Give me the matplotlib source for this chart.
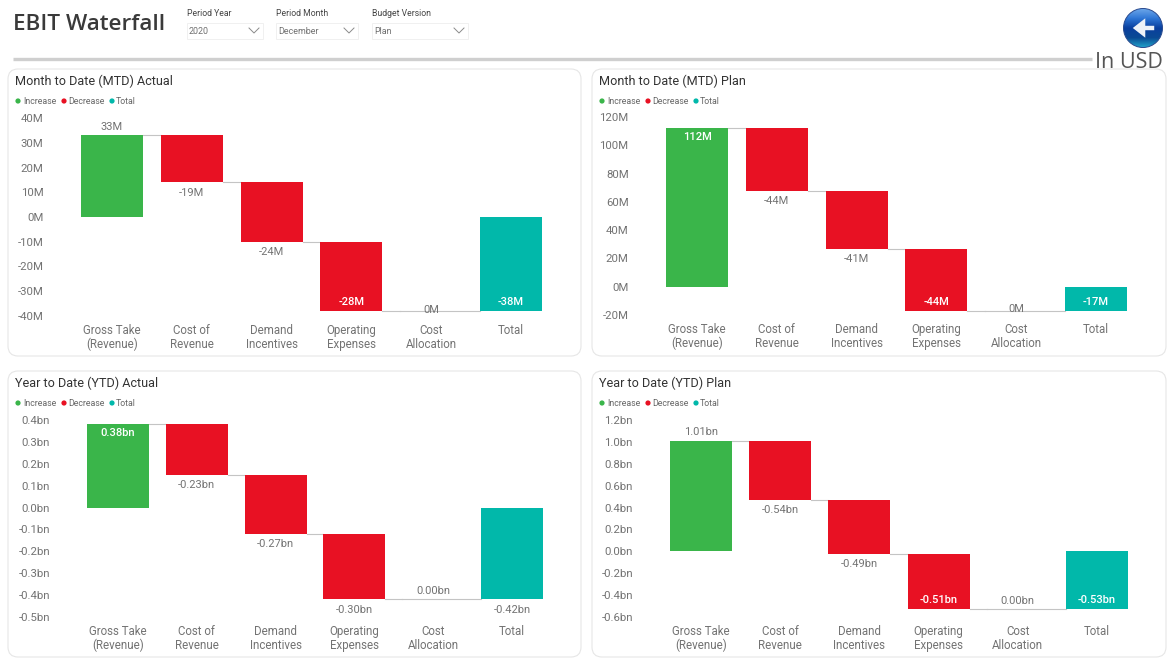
import numpy as np
import matplotlib
matplotlib.use('Agg')
import matplotlib.pyplot as plt
from matplotlib.patches import FancyBboxPatch, Rectangle, Circle

W, H = 1174, 661

categories = ['Gross Take\n(Revenue)', 'Cost of\nRevenue', 'Demand\nIncentives',
              'Operating\nExpenses', 'Cost\nAllocation', 'Total']

mtd_actual = [33, -19, -24, -28, 0]
mtd_plan = [112, -44, -41, -44, 0]
ytd_actual = [0.38, -0.23, -0.27, -0.30, 0.00]
ytd_plan = [1.01, -0.54, -0.49, -0.51, 0.00]

mtd_actual_total = -38
mtd_plan_total = -17
ytd_actual_total = -0.42
ytd_plan_total = -0.53

mtd_actual_ticks = [40, 30, 20, 10, 0, -10, -20, -30, -40]
mtd_plan_ticks = [120, 100, 80, 60, 40, 20, 0, -20]
ytd_actual_ticks = [0.4, 0.3, 0.2, 0.1, 0.0, -0.1, -0.2, -0.3, -0.4, -0.5]
ytd_plan_ticks = [1.2, 1.0, 0.8, 0.6, 0.4, 0.2, 0.0, -0.2, -0.4, -0.6]

GREEN = '#3AB54A'
RED = '#E81123'
TEAL = '#01B8AA'
TXT = '#737373'
FONT = 'Roboto'

plt.rcParams['font.family'] = FONT

fig = plt.figure(figsize=(W / 100, H / 100), dpi=100, facecolor='white')

# page level stuff is drawn in pixel coords
bg = fig.add_axes([0, 0, 1, 1])
bg.set_xlim(0, W)
bg.set_ylim(H, 0)
bg.axis('off')


def chevron(x, y):
    bg.plot([x - 5, x, x + 5], [y - 3, y + 2, y - 3], color='#8a8a8a', lw=0.7)


def slicer(x, w, title, value):
    bg.text(x, 14, title, fontsize=6.2, color='#444444', va='center')
    bg.add_patch(Rectangle((x, 23), w, 16, fc='white', ec='#f0f0f0', lw=0.7))
    bg.text(x + 2, 31, value, fontsize=6.4, color='#707070', va='center')
    chevron(x + w - 9, 31)


bg.text(13, 24, 'EBIT Waterfall', fontsize=16.2, family='Open Sans', weight='semibold',
        color='#3a3a3a', va='center')
slicer(187, 76, 'Period Year', '2020')
slicer(276, 82, 'Period Month', 'December')
slicer(372, 96, 'Budget Version', 'Plan')
bg.plot([13, 1092], [59, 59], color='#cfcfcf', lw=2.4, solid_capstyle='butt')
bg.text(1163, 62, 'In USD', fontsize=15.5, family='Open Sans', color='#555555', ha='right', va='center')

# back button
grad = np.linspace(0, 1, 64).reshape(-1, 1)
cmap = matplotlib.colors.LinearSegmentedColormap.from_list(
    'btn', ['#6fa8ea', '#2f77d6', '#0a3f9e', '#0a4a94', '#22a6cc'])
im = bg.imshow(grad, extent=(1123, 1163, 48, 8), cmap=cmap, aspect='auto', zorder=3)
btn = Circle((1143, 28), 19.5, transform=bg.transData)
im.set_clip_path(btn)
bg.set_xlim(0, W)
bg.set_ylim(H, 0)
bg.add_patch(Circle((1143, 28), 19.5, fc='none', ec='#2a4a8e', lw=0.7, zorder=4))
bg.annotate('', xy=(1130, 28), xytext=(1157, 28), zorder=5,
            arrowprops=dict(arrowstyle='simple,head_width=1.4,head_length=0.9,tail_width=0.32',
                            fc='#eef2f8', ec='none'))


def panel(box, title, tick_fmt, values, total, ticks, px_top, px_bot, x0, step, fmt, inside, above, on_line):
    x, y, x2, y2 = box
    bg.add_patch(FancyBboxPatch((x + 10, y + 10), x2 - x - 20, y2 - y - 20,
                                boxstyle='round,pad=10,rounding_size=10',
                                fc='white', ec='#e6e6e6', lw=0.8))
    bg.text(x + 7, y + 12, title, fontsize=9.1, color='#333333', va='center')

    # legend
    ly = y + 32
    for cx, tx, c, lab in [(10, 15, GREEN, 'Increase'), (56, 60, RED, 'Decrease'), (104, 108, TEAL, 'Total')]:
        bg.add_patch(Circle((x + cx, ly), 2.6, fc=c, ec='none'))
        bg.text(x + tx, ly, lab, fontsize=6.3, color='#666666', va='center')

    ax = fig.add_axes([(x0 - step / 2) / W, 1 - px_bot / H, 6 * step / W, (px_bot - px_top) / H])
    ax.patch.set_alpha(0)
    for s in ax.spines.values():
        s.set_visible(False)

    span = max(ticks) - min(ticks)
    running = 0
    bar_w = 62 / step
    pt = span / (px_bot - px_top)  # data units per pixel

    labels = values + [total]
    for i, v in enumerate(labels):
        is_total = i == len(values)
        bottom = 0 if is_total else running
        top = v if is_total else running + v
        color = TEAL if is_total else (GREEN if v > 0 else RED)
        ax.bar(i, top - bottom, bottom=bottom, width=bar_w, color=color, lw=0)

        hi, lo = max(bottom, top), min(bottom, top)
        col = TXT
        if i in inside:
            # white label stuck to the far end of the bar
            ly_val = top - np.sign(top - bottom) * 9 * pt
            col = 'white'
        elif i in above:
            ly_val = hi + 8.5 * pt
        elif i in on_line:
            ly_val = hi + 1.5 * pt
        else:
            ly_val = lo - 10.5 * pt
        ax.text(i, ly_val, fmt.format(v), ha='center', va='center', fontsize=8, color=col,
                weight='medium' if col == 'white' else 'normal', zorder=4)

        if not is_total:
            running = top
            # zero step has no bar so the line runs across its slot too
            start = i - bar_w / 2 if v == 0 else i + bar_w / 2
            ax.plot([start, i + 1 - bar_w / 2], [running, running], color='#c4c4c4', lw=0.8, zorder=1)

    ax.set_xlim(-0.5, 5.5)
    ax.set_ylim(min(ticks), max(ticks))
    ax.set_xticks(range(6))
    ax.set_xticklabels(categories, fontsize=8.3, color=TXT, linespacing=1.02)
    ax.set_yticks(ticks)
    ax.set_yticklabels([tick_fmt.format(t) for t in ticks], fontsize=8.2, color=TXT)
    ax.tick_params(axis='x', length=0, pad=6)
    ax.tick_params(axis='y', length=0, pad=20.5)
    return ax


panel((8, 69, 581, 356), 'Month to Date (MTD) Actual', '{:.0f}M', mtd_actual, mtd_actual_total,
      mtd_actual_ticks, 118, 316, 112, 79.8, '{:.0f}M', {3, 5}, {0}, {4})
panel((592, 69, 1166, 356), 'Month to Date (MTD) Plan', '{:.0f}M', mtd_plan, mtd_plan_total,
      mtd_plan_ticks, 117, 315, 697, 79.8, '{:.0f}M', {0, 3, 5}, set(), {4})
panel((8, 371, 581, 657), 'Year to Date (YTD) Actual', '{:.1f}bn', ytd_actual, ytd_actual_total,
      ytd_actual_ticks, 420, 617, 118, 78.8, '{:.2f}bn', {0}, {4}, set())
panel((592, 371, 1166, 657), 'Year to Date (YTD) Plan', '{:.1f}bn', ytd_plan, ytd_plan_total,
      ytd_plan_ticks, 420, 617, 701, 79.2, '{:.2f}bn', {3, 5}, {0, 4}, set())

fig.savefig('out.png', dpi=100)
